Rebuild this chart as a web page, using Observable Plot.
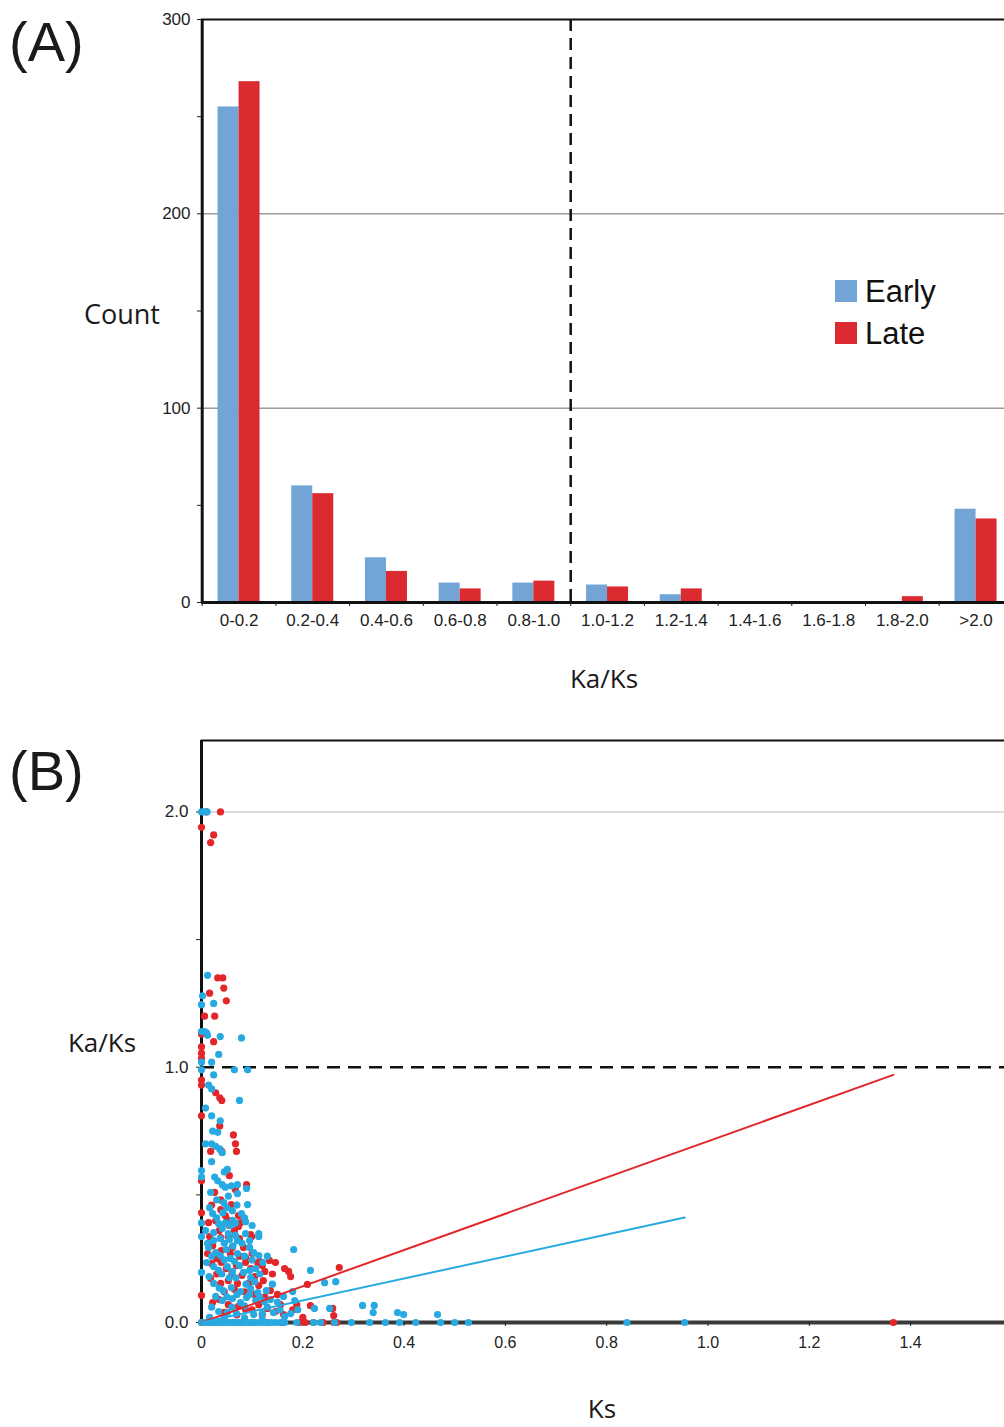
<!DOCTYPE html>
<html>
<head>
<meta charset="utf-8">
<script src="https://cdn.jsdelivr.net/npm/d3@7"></script>
<script src="https://cdn.jsdelivr.net/npm/@observablehq/plot@0.6"></script>
<style>
  html, body { margin: 0; padding: 0; background: #fff; }
  #wrap { position: relative; width: 1004px; height: 1427px; overflow: hidden; background: #fff; }
  .lbl { position: absolute; font-family: "Open Sans", "Noto Sans", sans-serif; color: #1a1a1a; white-space: nowrap; line-height: 1; transform: translate(-50%, -50%); }
  .panel { font-family: "Liberation Sans", Arial, sans-serif; font-weight: 400; font-size: 56px; transform: none; color: #1a1a1a; }
  .leg { position: absolute; font-family: "Liberation Sans", Arial, sans-serif; font-size: 31px; color: #111; line-height: 1; }
  .sw { position: absolute; width: 22px; height: 22px; }
  #plotA, #plotB { position: absolute; left: 0; }
  #plotA { top: 0; }
  #plotB { top: 700px; }
</style>
</head>
<body>
<div id="wrap">
  <div id="plotA"></div>
  <div id="plotB"></div>
  <div class="lbl panel" style="left:9px; top:14px;">(A)</div>
  <div class="lbl panel" style="left:9px; top:743px;">(B)</div>
  <div class="lbl" style="left:122px; top:313px; font-size:27px;">Count</div>
  <div class="lbl" style="left:604px; top:678px; font-size:26px;">Ka/Ks</div>
  <div class="lbl" style="left:102px; top:1042px; font-size:26px;">Ka/Ks</div>
  <div class="lbl" style="left:602px; top:1408px; font-size:26px;">Ks</div>
  <div class="sw" style="left:835px; top:280px; background:#72a4d5;"></div>
  <div class="sw" style="left:835px; top:322px; background:#db2b30;"></div>
  <div class="leg" style="left:865px; top:276px;">Early</div>
  <div class="leg" style="left:865px; top:318px;">Late</div>
</div>
<script>
// ---------- Panel A data ----------
const bins = ["0-0.2","0.2-0.4","0.4-0.6","0.6-0.8","0.8-1.0","1.0-1.2","1.2-1.4","1.4-1.6","1.6-1.8","1.8-2.0",">2.0"];
const earlyCounts = [255, 60, 23, 10, 10, 9, 4, 0, 0, 0, 48];
const lateCounts  = [268, 56, 16, 7, 11, 8, 7, 0, 0, 3, 43];
const seriesNames = ["Early", "Late"];
const barColors = ["#72a4d5", "#db2b30"];
const countTicks = [0, 50, 100, 150, 200, 250, 300];
const countGrid = [100, 200];
const neutralBinIndex = 5; // boundary at Ka/Ks = 1.0

// ---------- Panel B data (Ks, Ka/Ks) ----------
const earlyPoints = [
  [0,2.0],[0.006,2.0],[0.011,2.0],
  [0.012,1.36],[0.002,1.28],[0.024,1.25],[0,1.245],
  [0,1.14],[0.006,1.14],[0.01,1.135],[0.012,1.125],[0.037,1.12],[0.079,1.115],
  [0.034,1.05],[0.02,1.02],[0,1.02],[0,0.99],[0.065,0.99],[0.091,0.99],[0.024,0.97],
  [0.014,0.93],[0.02,0.915],[0.075,0.87],
  [0.008,0.84],[0.02,0.81],[0.037,0.79],[0.022,0.75],[0.032,0.745],
  [0.008,0.70],[0.02,0.70],[0.028,0.69],[0.036,0.68],[0.041,0.665],[0.02,0.63],
  [0,0.595],[0,0.57],[0.045,0.59],[0.051,0.60],[0.026,0.57],[0.032,0.555],[0.041,0.54],[0.047,0.53],[0.059,0.535],[0.071,0.54],[0.089,0.525],
  [0.018,0.51],[0.053,0.495],[0.071,0.505],[0.091,0.462],[0.061,0.438],[0.022,0.427],[0.061,0.40],[0.079,0.427],
  [0,0.39],[0.034,0.387],[0.047,0.39],[0.057,0.379],[0.067,0.39],[0.087,0.395],
  [0.008,0.36],[0.024,0.352],[0.041,0.368],[0.053,0.348],[0.067,0.341],[0.087,0.348],[0.113,0.348],[0,0.337],
  [0.024,0.321],[0.037,0.329],[0.055,0.325],[0.071,0.321],[0.095,0.321],[0.113,0.337],
  [0.014,0.294],[0.028,0.274],[0.037,0.262],[0.049,0.286],[0.057,0.251],[0.071,0.27],[0.095,0.294],[0.103,0.274],[0.113,0.262],
  [0.182,0.286],[0,0.196],
  [0.024,0.219],[0.034,0.204],[0.051,0.219],[0.061,0.2],[0.075,0.223],[0.083,0.196],[0.095,0.204],[0.107,0.211],[0.121,0.235],[0.097,0.176],
  [0.215,0.204],
  [0.024,0.153],[0.043,0.125],[0.059,0.137],[0.077,0.121],[0.097,0.133],[0.111,0.117],[0.128,0.125],
  [0.028,0.102],[0.041,0.086],[0.061,0.094],[0.077,0.078],[0.089,0.098],[0.107,0.086],[0.124,0.082],[0.136,0.09],[0.162,0.102],[0.184,0.086],
  [0.034,0.043],[0.051,0.039],[0.069,0.035],[0.103,0.031],[0.12,0.035],[0.142,0.039],[0.164,0.023],[0.176,0.035],
  [0.016,0.02],[0.045,0.015],[0.085,0.018],[0.12,0.012],
  [0.03,0.48],[0.044,0.47],[0.016,0.45],[0.05,0.45],[0.07,0.46],[0.03,0.41],[0.042,0.43],[0.085,0.41],[0.1,0.38],
  [0.012,0.31],[0.045,0.31],[0.062,0.3],[0.08,0.31],[0.02,0.26],[0.045,0.245],[0.065,0.24],[0.085,0.26],[0.1,0.245],[0.13,0.26],
  [0.015,0.18],[0.04,0.19],[0.068,0.175],[0.088,0.15],[0.105,0.16],[0.14,0.15],[0.035,0.135],[0.05,0.1],[0.07,0.11],[0.095,0.11],
  [0.115,0.1],[0.15,0.08],[0.02,0.06],[0.06,0.06],[0.085,0.065],[0.13,0.06],[0.155,0.05],[0.19,0.05],[0.01,0.235],[0.055,0.175],[0.115,0.19],
  [0.243,0.156],[0.265,0.16],[0.18,0.121],[0.223,0.055],[0.253,0.055],[0.318,0.067],[0.341,0.067],[0.339,0.039],[0.387,0.039],[0.399,0.031],[0.466,0.031],
  [0,0],[0.007,0],[0.013,0],[0.02,0],[0.026,0],[0.033,0],[0.04,0],[0.046,0],[0.053,0],[0.06,0],[0.067,0],[0.073,0],[0.08,0],[0.087,0],
  [0.094,0],[0.1,0],[0.107,0],[0.115,0],[0.122,0],[0.13,0],[0.138,0],[0.146,0],[0.155,0],[0.164,0],[0.188,0],[0.221,0],[0.235,0],
  [0.263,0],[0.296,0],[0.332,0],[0.363,0],[0.391,0],[0.423,0],[0.472,0],[0.5,0],[0.527,0],[0.84,0],[0.954,0]
];
const latePoints = [
  [0.0375,2.0],[0.01,2.0],[0,1.94],[0.024,1.91],[0.018,1.88],
  [0.032,1.35],[0.042,1.35],[0.044,1.31],[0.016,1.29],[0.049,1.26],[0.006,1.2],[0.026,1.2],
  [0,1.13],[0.024,1.1],[0,1.08],[0,1.055],[0,1.035],[0,0.95],[0,0.93],
  [0.028,0.9],[0.036,0.88],[0.04,0.87],[0,0.81],[0.036,0.77],[0.063,0.735],
  [0.018,0.67],[0.067,0.7],[0.069,0.67],[0.04,0.67],[0,0.555],[0.055,0.575],[0.067,0.52],[0.089,0.54],[0.026,0.51],[0.038,0.48],
  [0,0.43],[0.059,0.462],[0.038,0.442],[0.073,0.419],[0.047,0.419],[0.077,0.391],[0.014,0.391],[0.028,0.399],[0.051,0.403],[0.073,0.376],[0.097,0.344],
  [0.016,0.337],[0.038,0.333],[0.075,0.329],[0.053,0.337],[0.099,0.337],
  [0.022,0.301],[0.039,0.282],[0.061,0.294],[0.083,0.294],[0.087,0.254],[0.116,0.239],
  [0.02,0.231],[0.039,0.235],[0.049,0.211],[0.069,0.223],[0.087,0.235],[0.097,0.211],[0.111,0.235],[0.12,0.223],[0.134,0.243],[0.146,0.235],
  [0.164,0.211],[0.172,0.2],[0.176,0.18],[0.272,0.215],
  [0.018,0.172],[0.038,0.153],[0.053,0.164],[0.071,0.153],[0.093,0.153],[0.113,0.145],[0.122,0.164],[0.136,0.125],[0.209,0.149],
  [0,0.106],
  [0.022,0.078],[0.053,0.07],[0.073,0.063],[0.087,0.051],[0.113,0.07],[0.13,0.055],[0.146,0.043],[0.162,0.031],[0.156,0.07],
  [0.188,0.07],[0.215,0.066],[0.259,0.055],[0.261,0.027],
  [0.02,0.46],[0.055,0.38],[0.035,0.36],[0.065,0.36],[0.012,0.27],[0.03,0.25],[0.057,0.27],[0.075,0.26],[0.1,0.27],[0.125,0.2],
  [0.14,0.19],[0.03,0.19],[0.06,0.19],[0.08,0.185],[0.105,0.18],[0.045,0.12],[0.065,0.13],[0.085,0.12],[0.105,0.11],[0.125,0.1],
  [0.15,0.11],[0.035,0.09],[0.1,0.05],[0.12,0.03],[0.18,0.05],[0.2,0.02],[0.07,0.03],[0.045,0.04],
  [0,0],[0.02,0],[0.04,0],[0.06,0],[0.08,0],[0.1,0],[0.13,0],[0.16,0],[0.193,0],[0.205,0],[0.221,0],[0.24,0],[0.261,0],[0.267,0],[1.366,0]
];
const earlyFit = [[0, 0], [0.954, 0.411]];
const lateFit  = [[0, 0], [1.366, 0.97]];
const ksTicks = [0, 0.2, 0.4, 0.6, 0.8, 1.0, 1.2, 1.4];
const ratioTicks = [0, 0.5, 1.0, 1.5, 2.0];
const ratioMax = 2.28;
const neutralRatio = 1.0;
const gridRatio = 2.0;
const dotColors = { Early: "#27aae1", Late: "#e3262a" };

// ---------- Panel A ----------
const barRows = bins.flatMap((b, i) => [
  { i, bin: b, series: "Early", count: earlyCounts[i] },
  { i, bin: b, series: "Late", count: lateCounts[i] }
]);
const halfBar = 0.285;
const boundaries = d3.range(bins.length + 1);
const centers = bins.map((_, i) => i + 0.5);

const plotA = Plot.plot({
  width: 1004, height: 700,
  marginTop: 19, marginBottom: 98, marginLeft: 201, marginRight: 0,
  x: { domain: [0, bins.length], range: [201.7, 1012.4], label: null },
  y: { domain: [0, 300], label: null },
  color: { domain: seriesNames, range: barColors },
  style: { fontFamily: "'Liberation Sans', Arial, sans-serif", fontSize: "17px", color: "#222", background: "transparent" },
  marks: [
    Plot.ruleY(countGrid, { stroke: "#6a6a6a", strokeWidth: 1 }),
    Plot.rectY(barRows, {
      x1: d => d.series === "Early" ? d.i + 0.5 - halfBar : d.i + 0.5,
      x2: d => d.series === "Early" ? d.i + 0.5 : d.i + 0.5 + halfBar,
      y1: 0, y2: "count", fill: "series"
    }),
    Plot.ruleX([neutralBinIndex], { stroke: "#111", strokeWidth: 2.5, strokeDasharray: "12,7" }),
    Plot.ruleY([300], { stroke: "#111", strokeWidth: 2 }),
    Plot.ruleY([0], { stroke: "#111", strokeWidth: 3 }),
    Plot.axisY({ ticks: countTicks, tickFormat: d => d % 100 === 0 ? String(d) : "", tickSize: 4, tickPadding: 7, fontSize: 17, stroke: "#222" }),
    Plot.axisX({ ticks: boundaries, tickFormat: () => "", tickSize: 4, stroke: "#222" }),
    Plot.axisX({ ticks: centers, tickFormat: c => bins[Math.floor(c)], tickSize: 0, tickPadding: 11, fontSize: 17 }),
    Plot.ruleX([0], { stroke: "#111", strokeWidth: 3 })
  ]
});
document.getElementById("plotA").appendChild(plotA);

// ---------- Panel B ----------
const plotB = Plot.plot({
  width: 1004, height: 727,
  marginTop: 40, marginBottom: 105, marginLeft: 201, marginRight: 0,
  x: { domain: [0, 1.6], range: [201, 1011.4], label: null },
  y: { domain: [0, ratioMax], label: null },
  style: { fontFamily: "'Liberation Sans', Arial, sans-serif", fontSize: "16px", color: "#222", background: "transparent" },
  marks: [
    Plot.ruleY([gridRatio], { stroke: "#b8b8b8", strokeWidth: 1 }),
    Plot.ruleY([neutralRatio], { stroke: "#111", strokeWidth: 2.5, strokeDasharray: "13,8" }),
    Plot.ruleY([ratioMax], { stroke: "#111", strokeWidth: 2 }),
    Plot.ruleY([0], { stroke: "#3a3a3a", strokeWidth: 4 }),
    Plot.ruleX([0], { stroke: "#111", strokeWidth: 3 }),
    Plot.axisY({ ticks: ratioTicks, tickFormat: d => Number.isInteger(d) ? d.toFixed(1) : "", tickSize: 5, tickPadding: 8, fontSize: 17, stroke: "#222" }),
    Plot.axisX({ ticks: ksTicks, tickFormat: d => d === 0 ? "0" : d.toFixed(1), tickSize: 4, tickPadding: 10, fontSize: 16, stroke: "#222" }),
    Plot.dot(latePoints, { x: d => d[0], y: d => d[1], r: 3.6, fill: dotColors.Late, stroke: "none" }),
    Plot.dot(earlyPoints, { x: d => d[0], y: d => d[1], r: 3.6, fill: dotColors.Early, stroke: "none" }),
    Plot.line(lateFit, { x: d => d[0], y: d => d[1], stroke: dotColors.Late, strokeWidth: 2 }),
    Plot.line(earlyFit, { x: d => d[0], y: d => d[1], stroke: dotColors.Early, strokeWidth: 2 })
  ]
});
document.getElementById("plotB").appendChild(plotB);
</script>
</body>
</html>
